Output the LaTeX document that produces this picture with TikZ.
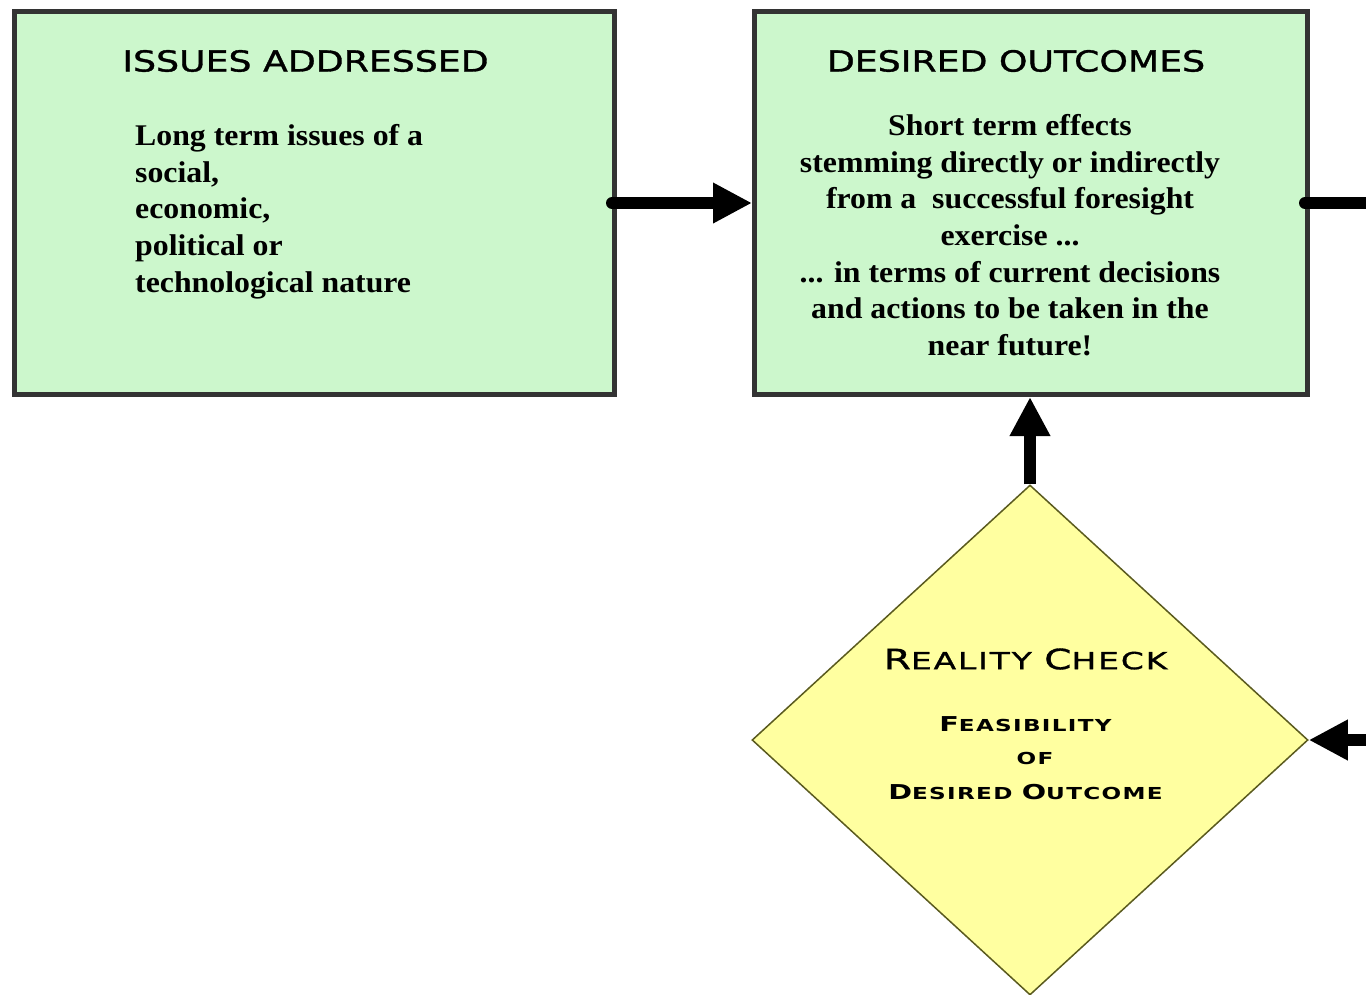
\documentclass[tikz,border=0pt]{standalone}
\usepackage{fontspec}
\setmainfont{Liberation Serif}
\newfontfamily\headfont[FakeStretch=1.25,FakeBold=1.2]{DejaVu Sans}
\newfontfamily\diafont[FakeStretch=1.4,LetterSpace=8]{DejaVu Sans}
\newfontfamily\diaheadfont[FakeStretch=1.4,LetterSpace=8,FakeBold=1.2]{DejaVu Sans}
\newfontfamily\bodyfont[FakeStretch=1.06]{Liberation Serif}
\usetikzlibrary{shapes.geometric,arrows.meta}

\definecolor{panelgreen}{RGB}{204,247,204}
\definecolor{boxline}{RGB}{51,51,51}
\definecolor{checkyellow}{RGB}{255,255,160}
\definecolor{checkline}{RGB}{90,90,30}

% fake small caps sizes for the diamond
\newcommand\hiA{\fontsize{28}{28}\selectfont}
\newcommand\loA{\fontsize{23.5}{23.5}\selectfont}
\newcommand\hiB{\fontsize{20.5}{20.5}\selectfont}
\newcommand\loB{\fontsize{16.5}{16.5}\selectfont}

\begin{document}
\begin{tikzpicture}[x=1pt,y=-1pt,
  panel/.style={draw=boxline, line width=5pt, fill=panelgreen,
    minimum width=#1, minimum height=383pt, inner sep=0pt},
  check/.style={diamond, draw=checkline, line width=1.5pt, fill=checkyellow,
    minimum width=556pt, minimum height=510pt, inner sep=0pt},
  heading/.style={inner sep=0pt, font=\headfont\fontsize{29}{29}\selectfont},
  bodytext/.style={inner sep=0pt, font=\bodyfont\bfseries\fontsize{30}{36.7}\selectfont},
  checktext/.style={inner sep=0pt, font=\diafont\bfseries},
  flow/.style={line width=12pt, draw=black,
    -{Triangle[length=39pt,width=38pt]}},
  shaft/.style={line width=12pt, draw=black, line cap=round}
]
\useasboundingbox (0,0) rectangle (1366,994);
\clip (0,0) rectangle (1366,994);

% boxes
\node[panel=600pt] (issues) at (314.5,203) {};
\node[panel=553pt] (outcomes) at (1031,203) {};
\node[check] (reality) at (1030,740) {};

% headings
\node[heading] (issuesTitle) at (305.5,61) {ISSUES ADDRESSED};
\node[heading] (outcomesTitle) at (1016,61) {DESIRED OUTCOMES};

% box texts
\node[bodytext, align=left, anchor=north west] (issuesText) at (135,124)
  {Long term issues of a\\social,\\economic,\\political or\\technological nature};
\node[bodytext, align=center, anchor=north] (outcomesText) at (1010,114)
  {Short term effects\\stemming directly or indirectly\\from a~ successful foresight\\exercise ...\\... in terms of current decisions\\and actions to be taken in the\\near future!};

% diamond texts
\node[checktext, font=\diaheadfont] (checkTitle) at (1025.5,659)
  {{\hiA R}{\loA EALITY }{\hiA C}{\loA HECK}};
\node[checktext] (checkLineA) at (1025.5,724)
  {{\hiB F}{\loB EASIBILITY}};
\node[checktext] (checkLineB) at (1035,758)
  {{\loB OF}};
\node[checktext] (checkLineC) at (1025.5,792)
  {{\hiB D}{\loB ESIRED }{\hiB O}{\loB UTCOME}};

% connectors
\coordinate (exitR) at (1390,203);
\coordinate (entryR) at (1410,740);
\draw[flow, line cap=round] ([xshift=-5pt]issues.east) -- (outcomes.west);
\draw[shaft] ([xshift=-5pt]outcomes.east) -- (exitR);
\draw[flow] (reality.north) -- (reality.north |- outcomes.south);
\draw[flow] (entryR) -- (reality.east);
\end{tikzpicture}
\end{document}
